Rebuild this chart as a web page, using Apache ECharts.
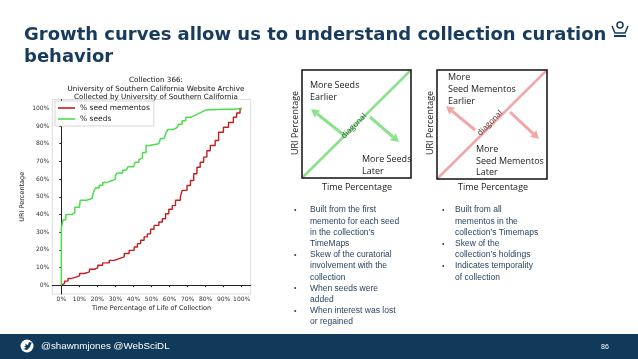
<!DOCTYPE html>
<html><head><meta charset="utf-8">
<script src="https://cdn.jsdelivr.net/npm/echarts@6/dist/echarts.min.js"></script>
<style>html,body{margin:0;padding:0;background:#fff}#c{width:638px;height:359px}</style>
</head><body><div id="c"></div><script>
// ---- data (percent of collection life, percent of URIs) ----
const seedMementosX = [0,0.9,1.8,3.7,5.5,7.3,10.1,12.8,15.6,18.3,20.2,22.9,26.6,29.4,32.1,34.9,37.6,40.4,42.2,44,45.9,47.7,49.5,51.4,54.1,56,57.8,59.6,61.5,63.3,66,67,69.7,71.6,73.4,75.2,77,78.9,80.7,82.6,85.3,87.2,89.9,92.7,95.4,97.2,99.1,100];
const seedMementosY = [0,1,2.3,3.8,4.3,5.3,6.6,7.5,9,9.8,11.3,12.6,14,15,16,17.9,19.7,21.6,23.5,25.4,27.3,29,31.6,33.8,35.7,37.6,40.4,42.9,45,48,49.8,53.6,56.4,59.2,63,66.7,69.5,72.4,76,79,81.8,86.5,89.3,92,95,97.4,99.6,100];
const seedsX = [0,0,0.5,1,2.5,6,7.5,10,10.5,14,17,18,19,21,23,25,28,30,31,34,36,37,40,41,43,44,45,47,49,54,55,57,58,59,62,64,65,67,69,72,74,76,78,80,90,96,100];
const seedsY = [0,32,35,37,40,41,44,45,48,49,50,53,55,56.5,58,59,60,62,63.5,65,66,67,68,69.5,71,72,75,79,80,81,83,84,86,88,89,90,91,93,95,96,97,98,99,99.5,99.5,100,100];
const tickValues = [0,10,20,30,40,50,60,70,80,90,100];
const seriesNames = ['% seed mementos','% seeds'];
const chartTitle = 'Collection 366:\nUniversity of Southern California Website Archive\nCollected by University of Southern California';

const NAVY = '#163b5e';
const TXT = '#2a4463';
function pairs(xs, ys){ return xs.map((x,i)=>[x, ys[i]]); }

function arrow(x1,y1,x2,y2,color){
  const a = Math.atan2(y2-y1, x2-x1), L = 8, W = 4.5;
  const bx = x2 - L*Math.cos(a), by = y2 - L*Math.sin(a);
  const px = -Math.sin(a)*W, py = Math.cos(a)*W;
  return [
    {type:'line', shape:{x1:x1,y1:y1,x2:bx,y2:by}, style:{stroke:color,lineWidth:3}},
    {type:'polygon', shape:{points:[[x2,y2],[bx+px,by+py],[bx-px,by-py]]}, style:{fill:color}}
  ];
}
function txt(x,y,text,o){
  return Object.assign({type:'text', x:x, y:y, style:Object.assign({text:text, fill:'#222', font:'9px "Open Sans"', textVerticalAlign:'middle'}, (o&&o.style)||{})}, o&&o.extra||{});
}
const G1 = '#8be28b', R1 = '#f2a7a7';
const graphics = [
  txt(24,35,'Growth curves allow us to understand collection curation',{style:{fill:NAVY,font:'bold 18px "DejaVu Sans"'}}),
  txt(24,57,'behavior',{style:{fill:NAVY,font:'bold 18px "DejaVu Sans"'}}),
  // diagram 1
  {type:'line', shape:{x1:302,y1:178,x2:411,y2:70}, style:{stroke:G1,lineWidth:2.5}},
  {type:'rect', shape:{x:302,y:70,width:109,height:108}, style:{fill:null,stroke:'#111',lineWidth:1.5}},
  ...arrow(345,136,311,109,G1), ...arrow(370,117,399,142,G1),
  txt(310,85,'More Seeds'), txt(310,97,'Earlier'),
  txt(362,159,'More Seeds'), txt(362,171,'Later'),
  txt(354,126,'diagonal',{style:{fill:'#2f5d2f',font:'8px "Open Sans"',textAlign:'center'},extra:{rotation:Math.PI/4}}),
  txt(295,123,'URI Percentage',{style:{font:'9px "Open Sans"',textAlign:'center'},extra:{rotation:Math.PI/2}}),
  txt(357,187,'Time Percentage',{style:{textAlign:'center'}}),
  // diagram 2
  {type:'line', shape:{x1:437,y1:179,x2:547,y2:70}, style:{stroke:R1,lineWidth:2.5}},
  {type:'rect', shape:{x:437,y:70,width:110,height:109}, style:{fill:null,stroke:'#111',lineWidth:1.5}},
  ...arrow(475,130,446,106,R1), ...arrow(510,112,539,139,R1),
  txt(448,77,'More'), txt(448,89,'Seed Mementos'), txt(448,101,'Earlier'),
  txt(476,149,'More'), txt(476,161,'Seed Mementos'), txt(476,172,'Later'),
  txt(490,123,'diagonal',{style:{fill:'#5a2a2a',font:'8px "Open Sans"',textAlign:'center'},extra:{rotation:Math.PI/4}}),
  txt(430,123,'URI Percentage',{style:{font:'9px "Open Sans"',textAlign:'center'},extra:{rotation:Math.PI/2}}),
  txt(493,187,'Time Percentage',{style:{textAlign:'center'}}),
  // footer
  {type:'rect', shape:{x:0,y:334,width:638,height:25}, style:{fill:'#11395a'}},
  {type:'circle', shape:{cx:27,cy:346,r:6.5}, style:{fill:'#fff'}},
  {type:'polygon', shape:{points:[[23,349],[26,348],[24,346],[26,346],[25,344],[28,345],[29,342],[31,342.5],[32,342],[31,344],[30,347],[27,350]]}, style:{fill:'#11395a'}},
  txt(41,346,'@shawnmjones @WebSciDL',{style:{fill:'#fff',font:'9.8px "Liberation Sans"'}}),
  txt(601,347,'86',{style:{fill:'#fff',font:'7px "Liberation Sans"'}}),
  // logo
  {type:'circle', shape:{cx:620,cy:25,r:3}, style:{fill:null,stroke:NAVY,lineWidth:1.5}},
  {type:'polyline', shape:{points:[[612,26],[615,33],[625,33],[628,26]]}, style:{stroke:NAVY,lineWidth:1.5,fill:null}},
  {type:'rect', shape:{x:614,y:35,width:12,height:2}, style:{fill:NAVY}}
];
const bulletsL = [
  ['Built from the first','memento for each seed','in the collection\u2019s','TimeMaps'],
  ['Skew of the curatorial','involvement with the','collection'],
  ['When seeds were','added'],
  ['When interest was lost','or regained']
];
const bulletsR = [
  ['Built from all','mementos in the','collection\u2019s Timemaps'],
  ['Skew of the','collection\u2019s holdings'],
  ['Indicates temporality','of collection']
];
function addBullets(list, bx, tx, y0){
  let y = y0;
  list.forEach(lines=>{
    graphics.push(txt(bx,y,'\u2022',{style:{fill:TXT,font:'7px "Liberation Sans"'}}));
    lines.forEach(l=>{ graphics.push(txt(tx,y,l,{style:{fill:TXT,font:'8.5px "Liberation Sans"'}})); y += 11.2; });
  });
}
addBullets(bulletsL, 294, 310, 210);
addBullets(bulletsR, 442, 455, 210);

const chart = echarts.init(document.getElementById('c'), null, {renderer:'canvas'});
const axisFont = {fontFamily:'DejaVu Sans', fontSize:6, color:'#333'};
chart.setOption({
  animation:false,
  backgroundColor:'#fff',
  title:{text:chartTitle, left:151, top:71, textAlign:'center', textStyle:{fontFamily:'DejaVu Sans', fontSize:7.2, fontWeight:'normal', color:'#111', lineHeight:8.5}},
  grid:{left:52.3, right:387.3, top:99.5, bottom:65, show:true, borderColor:'#dddddd', borderWidth:1, backgroundColor:'transparent'},
  legend:{orient:'vertical', left:55, top:101, data:seriesNames, icon:'rect', itemWidth:17, itemHeight:1.6, itemGap:3, padding:[3,4,3,3],
    backgroundColor:'#fff', borderColor:'#cccccc', borderWidth:0.8, textStyle:{fontFamily:'DejaVu Sans', fontSize:7.5, color:'#222'}},
  xAxis:{type:'value', min:-5, max:105, name:'Time Percentage of Life of Collection', nameLocation:'middle', nameGap:11, nameMoveOverlap:false,
    nameTextStyle:{fontFamily:'DejaVu Sans', fontSize:6.5, color:'#222'},
    axisLine:{lineStyle:{color:'#222', width:1}}, splitLine:{show:false},
    axisTick:{show:true, length:2, customValues:tickValues, lineStyle:{color:'#222'}},
    axisLabel:Object.assign({margin:2, customValues:tickValues, formatter:v=>v+'%'}, axisFont)},
  yAxis:[{type:'value', min:-5, max:105, name:'URI Percentage', nameLocation:'middle', nameGap:26,
    nameTextStyle:{fontFamily:'DejaVu Sans', fontSize:6.5, color:'#222'},
    axisLine:{show:true, lineStyle:{color:'#222', width:1}}, splitLine:{show:false},
    axisTick:{show:true, length:2, customValues:tickValues, lineStyle:{color:'#222'}},
    axisLabel:Object.assign({margin:3, customValues:tickValues, formatter:v=>v+'%'}, axisFont)}],
  series:[
    {name:seriesNames[0], type:'line', step:'end', showSymbol:false, data:pairs(seedMementosX, seedMementosY), color:'#c21f1f', lineStyle:{width:1.4}},
    {name:seriesNames[1], type:'line', step:'end', showSymbol:false, data:pairs(seedsX, seedsY), color:'#4ddc4d', lineStyle:{width:1.5}}
  ],
  graphic:graphics
});
</script></body></html>
